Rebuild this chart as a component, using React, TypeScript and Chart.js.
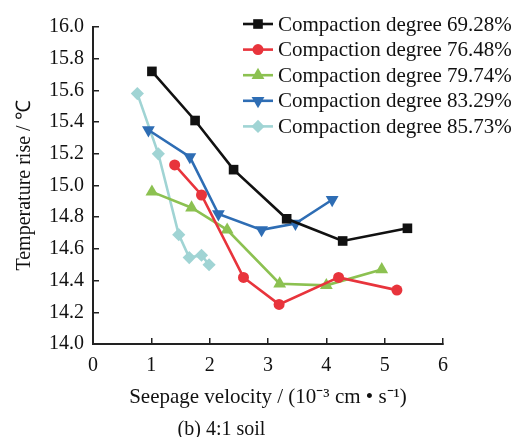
import React, { useEffect, useRef } from "react";
import { Chart, registerables } from "chart.js";

Chart.register(...registerables);

const seriesNames = [
  "Compaction degree 69.28%",
  "Compaction degree 76.48%",
  "Compaction degree 79.74%",
  "Compaction degree 83.29%",
  "Compaction degree 85.73%",
];

const x6928 = [1.01, 1.75, 2.41, 3.32, 4.28, 5.39];
const y6928 = [15.72, 15.41, 15.1, 14.79, 14.65, 14.73];

const x7648 = [1.4, 1.86, 2.58, 3.19, 4.21, 5.21];
const y7648 = [15.13, 14.94, 14.42, 14.25, 14.42, 14.34];

const x7974 = [1.01, 1.69, 2.3, 3.2, 4.0, 4.95];
const y7974 = [14.96, 14.86, 14.72, 14.38, 14.37, 14.47];

const x8329 = [0.95, 1.66, 2.15, 2.89, 3.47, 4.1];
const y8329 = [15.35, 15.18, 14.82, 14.72, 14.76, 14.91];

const x8573 = [0.76, 1.12, 1.47, 1.65, 1.86, 1.99];
const y8573 = [15.58, 15.2, 14.69, 14.545, 14.56, 14.5];

const xTicks = [0, 1, 2, 3, 4, 5, 6];
const yTicks = [14.0, 14.2, 14.4, 14.6, 14.8, 15.0, 15.2, 15.4, 15.6, 15.8, 16.0];

const colors = ["#111111", "#e8343c", "#8cc151", "#2e6db4", "#a0d4d4"];
const styles = ["rect", "circle", "triangle", "triangle", "rectRot"];
const rotations = [0, 0, 0, 180, 0];
const radii = [6.8, 5.5, 7.4, 7.4, 6.6];

const FONT = "'Liberation Serif', 'Times New Roman', serif";

const zip = (xs: number[], ys: number[]) => xs.map((x, i) => ({ x, y: ys[i] }));

function drawMarker(ctx: CanvasRenderingContext2D, style: string, r: number, rot: number, x: number, y: number) {
  ctx.beginPath();
  if (style === "rect") {
    const s = r * Math.SQRT1_2;
    ctx.rect(x - s, y - s, 2 * s, 2 * s);
  } else if (style === "circle") {
    ctx.arc(x, y, r, 0, Math.PI * 2);
  } else if (style === "triangle") {
    let a = (rot * Math.PI) / 180;
    for (let k = 0; k < 3; k++) {
      const px = x + Math.sin(a) * r;
      const py = y - Math.cos(a) * r;
      if (k === 0) ctx.moveTo(px, py);
      else ctx.lineTo(px, py);
      a += (2 * Math.PI) / 3;
    }
    ctx.closePath();
  } else if (style === "rectRot") {
    ctx.moveTo(x, y - r);
    ctx.lineTo(x + r, y);
    ctx.lineTo(x, y + r);
    ctx.lineTo(x - r, y);
    ctx.closePath();
  }
  ctx.fill();
}

const legendPlugin = {
  id: "lineLegend",
  afterDatasetsDraw(chart: any) {
    const ctx = chart.ctx;
    ctx.save();
    const x0 = 243;
    const x1 = 273;
    const tx = 278;
    const y0 = 24;
    const dy = 25.6;
    chart.data.datasets.forEach((ds: any, i: number) => {
      const y = y0 + i * dy;
      ctx.strokeStyle = ds.borderColor;
      ctx.lineWidth = 2.6;
      ctx.beginPath();
      ctx.moveTo(x0, y);
      ctx.lineTo(x1, y);
      ctx.stroke();
      ctx.fillStyle = ds.pointBackgroundColor;
      drawMarker(ctx, ds.pointStyle, ds.pointRadius, ds.pointRotation, (x0 + x1) / 2, y);
      ctx.fillStyle = "#111";
      ctx.font = `21px ${FONT}`;
      ctx.textAlign = "left";
      ctx.textBaseline = "middle";
      ctx.fillText(ds.label, tx, y + 1);
    });
    ctx.restore();
  },
};

export default function App() {
  const ref = useRef<HTMLCanvasElement>(null);

  useEffect(() => {
    if (!ref.current) return;
    const xs = [x6928, x7648, x7974, x8329, x8573];
    const ys = [y6928, y7648, y7974, y8329, y8573];
    const chart = new Chart(ref.current, {
      type: "line",
      data: {
        datasets: seriesNames.map((name, i) => ({
          label: name,
          data: zip(xs[i], ys[i]),
          borderColor: colors[i],
          backgroundColor: colors[i],
          pointBackgroundColor: colors[i],
          pointBorderColor: colors[i],
          pointBorderWidth: 0,
          pointStyle: styles[i] as any,
          pointRotation: rotations[i],
          pointRadius: radii[i],
          borderWidth: 2.6,
          tension: 0,
          fill: false,
        })),
      },
      options: {
        animation: false,
        responsive: false,
        maintainAspectRatio: false,
        devicePixelRatio: 1,
        layout: { padding: { top: 17, right: 83, left: 0, bottom: 0 } },
        plugins: {
          legend: { display: false },
          tooltip: { enabled: false },
          title: {
            display: true,
            position: "bottom",
            text: "(b) 4:1 soil",
            color: "#111",
            font: { family: FONT, size: 20, weight: "normal", lineHeight: 0.75 },
            padding: { top: 12, bottom: 0 },
          },
        },
        scales: {
          x: {
            type: "linear",
            min: 0,
            max: 6,
            afterBuildTicks: (scale: any) => {
              scale.ticks = xTicks.map((v) => ({ value: v }));
            },
            afterFit: (scale: any) => {
              scale.height = 66;
            },
            ticks: {
              color: "#111",
              font: { family: FONT, size: 20 },
              padding: 16,
              maxRotation: 0,
              callback: (v: any) => String(v),
            },
            grid: {
              display: true,
              drawOnChartArea: false,
              drawTicks: true,
              tickLength: -6,
              color: "#222",
              lineWidth: 1.5,
            },
            border: { display: true, color: "#222", width: 2 },
            title: {
              display: true,
              text: "Seepage velocity / (10⁻³ cm • s⁻¹)",
              color: "#111",
              font: { family: FONT, size: 21 },
              padding: { top: 0, bottom: 0 },
            },
          },
          y: {
            type: "linear",
            min: 14,
            max: 16,
            afterBuildTicks: (scale: any) => {
              scale.ticks = yTicks.map((v) => ({ value: v }));
            },
            afterFit: (scale: any) => {
              scale.width = 93;
            },
            ticks: {
              color: "#111",
              font: { family: FONT, size: 20 },
              padding: 15,
              callback: (v: any) => Number(v).toFixed(1),
            },
            grid: {
              display: true,
              drawOnChartArea: false,
              drawTicks: true,
              tickLength: -6,
              color: "#222",
              lineWidth: 1.5,
            },
            border: { display: true, color: "#222", width: 2 },
            title: {
              display: true,
              text: "Temperature rise / ℃",
              color: "#111",
              font: { family: FONT, size: 20 },
              padding: { top: 13, bottom: 0 },
            },
          },
        },
      },
      plugins: [legendPlugin],
    });
    return () => chart.destroy();
  }, []);

  return (
    <div style={{ position: "absolute", left: 0, top: 0, width: 526, height: 437, background: "#fff" }}>
      <canvas ref={ref} width={526} height={437} style={{ width: 526, height: 437 }} />
    </div>
  );
}
